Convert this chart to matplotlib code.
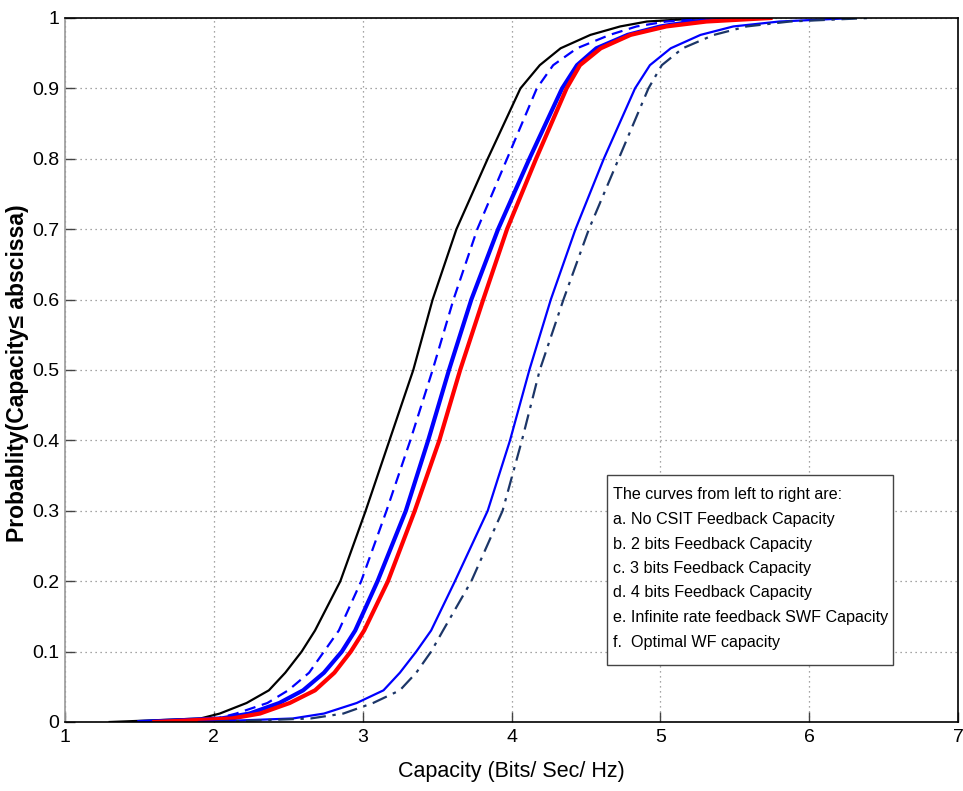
import matplotlib
matplotlib.use("Agg")
import matplotlib.pyplot as plt
from matplotlib.patches import Rectangle

# Probability levels at which each capacity CDF is tabulated
prob = [0.0, 0.005, 0.012, 0.027, 0.045, 0.07, 0.1, 0.13, 0.2, 0.3, 0.4, 0.5,
        0.6, 0.7, 0.8, 0.9, 0.933, 0.957, 0.976, 0.988, 0.995, 1.0]

# Capacity (bits/sec/Hz) reached at each probability level
cap_no_csit = [1.30, 1.91, 2.04, 2.22, 2.37, 2.48, 2.59, 2.68, 2.85, 3.02, 3.18, 3.34,
               3.47, 3.63, 3.84, 4.06, 4.19, 4.33, 4.53, 4.73, 4.91, 5.30]
cap_2bits = [1.50, 2.02, 2.15, 2.36, 2.50, 2.64, 2.74, 2.84, 2.99, 3.16, 3.32, 3.47,
             3.61, 3.77, 3.97, 4.17, 4.28, 4.44, 4.66, 4.84, 5.04, 5.40]
cap_3bits = [1.50, 2.05, 2.24, 2.44, 2.60, 2.74, 2.86, 2.95, 3.10, 3.29, 3.44, 3.58,
             3.73, 3.91, 4.12, 4.34, 4.44, 4.57, 4.78, 5.00, 5.22, 5.60]
cap_4bits = [1.60, 2.12, 2.31, 2.51, 2.68, 2.81, 2.92, 3.01, 3.17, 3.35, 3.515, 3.655,
             3.81, 3.97, 4.165, 4.37, 4.46, 4.60, 4.80, 5.04, 5.31, 5.74]
cap_swf = [1.90, 2.53, 2.74, 2.96, 3.14, 3.25, 3.36, 3.46, 3.62, 3.84, 3.99, 4.12,
           4.264, 4.43, 4.62, 4.83, 4.93, 5.07, 5.27, 5.49, 5.80, 6.30]
cap_wf = [2.00, 2.65, 2.87, 3.07, 3.25, 3.36, 3.46, 3.54, 3.73, 3.94, 4.07, 4.19,
          4.349, 4.52, 4.72, 4.92, 5.01, 5.15, 5.36, 5.58, 5.87, 6.40]

x_ticks = [1, 2, 3, 4, 5, 6, 7]
y_ticks = [0, 0.1, 0.2, 0.3, 0.4, 0.5, 0.6, 0.7, 0.8, 0.9, 1]
y_ticklabels = ["0", "0.1", "0.2", "0.3", "0.4", "0.5", "0.6", "0.7", "0.8", "0.9", "1"]

note_lines = [
    "The curves from left to right are:",
    "a. No CSIT Feedback Capacity",
    "b. 2 bits Feedback Capacity",
    "c. 3 bits Feedback Capacity",
    "d. 4 bits Feedback Capacity",
    "e. Infinite rate feedback SWF Capacity",
    "f.  Optimal WF capacity",
]

plt.rcParams["font.family"] = ["Liberation Sans", "DejaVu Sans"]

W, H = 963, 791
fig = plt.figure(figsize=(W / 100, H / 100), dpi=100)
ax_l, ax_r, ax_t, ax_b = 65, 958, 18, 722
ax = fig.add_axes([ax_l / W, (H - ax_b) / H, (ax_r - ax_l) / W, (ax_b - ax_t) / H])

ax.plot(cap_no_csit, prob, color="black", lw=1.6, ls="-")
ax.plot(cap_2bits, prob, color="#0000ff", lw=1.6, ls=(0, (5, 3)))
ax.plot(cap_3bits, prob, color="#0000ff", lw=3.0, ls="-")
ax.plot(cap_4bits, prob, color="#ff0000", lw=3.0, ls="-")
ax.plot(cap_swf, prob, color="#0000ff", lw=1.6, ls="-")
ax.plot(cap_wf, prob, color="#1c3668", lw=1.6, ls=(0, (7, 3, 1.5, 3)))

ax.set_xlim(1, 7)
ax.set_ylim(0, 1)
ax.set_xticks(x_ticks)
ax.set_yticks(y_ticks)
ax.set_yticklabels(y_ticklabels)
ax.tick_params(direction="in", length=7, width=1, labelsize=14, pad=5, color="#444444")
ax.tick_params(axis="y", pad=4)
ax.grid(True, ls=(0, (1, 3)), color="#888888", lw=0.9)

for side in ["top", "right", "bottom"]:
    ax.spines[side].set_color("black")
    ax.spines[side].set_linewidth(1.2)
ax.spines["left"].set_color("#999999")
ax.spines["left"].set_linewidth(1.2)


def px_to_axes(px, py):
    return (px - ax_l) / (ax_r - ax_l), (ax_b - py) / (ax_b - ax_t)


ax.set_xlabel("Capacity (Bits/ Sec/ Hz)", fontsize=15.5, va="center")
ax.xaxis.set_label_coords(*px_to_axes(511, 772))
ax.set_ylabel("Probablity(Capacity\u2264 abscissa)", fontsize=16.5, fontweight="bold",
              va="center")
ax.yaxis.set_label_coords(*px_to_axes(18, 373))

# Explanatory note box in the lower right
bx0, by0 = px_to_axes(607, 665)
bx1, by1 = px_to_axes(893, 475)
ax.add_patch(Rectangle((bx0, by0), bx1 - bx0, by1 - by0, transform=ax.transAxes,
                       facecolor="white", edgecolor="#444444", lw=1.0, zorder=5))
for i, line in enumerate(note_lines):
    tx, ty = px_to_axes(613, 495 + 24.5 * i)
    ax.text(tx, ty, line, transform=ax.transAxes, fontsize=11.6, ha="left",
            va="center", zorder=6)

fig.savefig("out.png", dpi=100, facecolor="white")
